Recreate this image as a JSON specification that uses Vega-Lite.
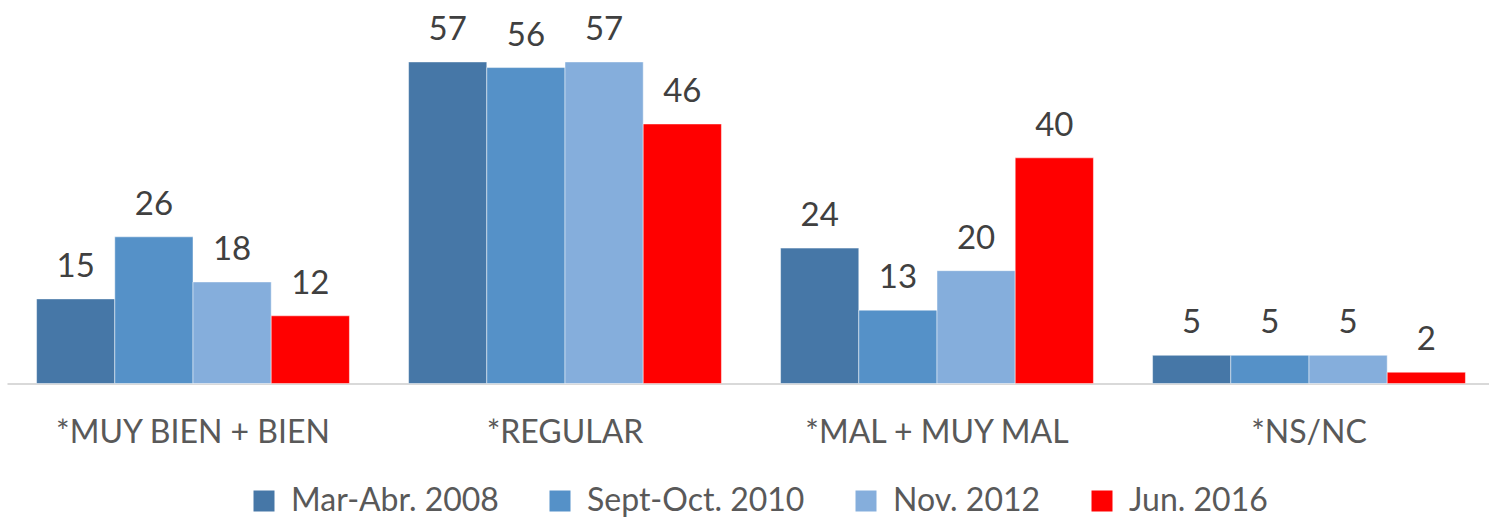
{
  "$schema": "https://vega.github.io/schema/vega-lite/v6.json",
  "autosize": {"type": "none"},
  "padding": {"left": 7, "top": 45, "right": 0, "bottom": 142.5},
  "width": 1488,
  "height": 338.5,
  "background": "white",
  "config": {"view": {"stroke": null}, "font": "Lato"},
  "data": {"values": [
    {"cat": "*MUY BIEN + BIEN", "serie": "Mar-Abr. 2008", "v": 15},
    {"cat": "*MUY BIEN + BIEN", "serie": "Sept-Oct. 2010", "v": 26},
    {"cat": "*MUY BIEN + BIEN", "serie": "Nov. 2012", "v": 18},
    {"cat": "*MUY BIEN + BIEN", "serie": "Jun. 2016", "v": 12},
    {"cat": "*REGULAR", "serie": "Mar-Abr. 2008", "v": 57},
    {"cat": "*REGULAR", "serie": "Sept-Oct. 2010", "v": 56},
    {"cat": "*REGULAR", "serie": "Nov. 2012", "v": 57},
    {"cat": "*REGULAR", "serie": "Jun. 2016", "v": 46},
    {"cat": "*MAL + MUY MAL", "serie": "Mar-Abr. 2008", "v": 24},
    {"cat": "*MAL + MUY MAL", "serie": "Sept-Oct. 2010", "v": 13},
    {"cat": "*MAL + MUY MAL", "serie": "Nov. 2012", "v": 20},
    {"cat": "*MAL + MUY MAL", "serie": "Jun. 2016", "v": 40},
    {"cat": "*NS/NC", "serie": "Mar-Abr. 2008", "v": 5},
    {"cat": "*NS/NC", "serie": "Sept-Oct. 2010", "v": 5},
    {"cat": "*NS/NC", "serie": "Nov. 2012", "v": 5},
    {"cat": "*NS/NC", "serie": "Jun. 2016", "v": 2}
  ]},
  "encoding": {
    "x": {
      "field": "cat", "type": "nominal", "sort": null,
      "scale": {"paddingInner": 0.159, "paddingOuter": 0.0795},
      "axis": {
        "title": null, "labelAngle": 0, "ticks": false,
        "domainColor": "#D9D9D9", "domainWidth": 2,
        "labelFontSize": 32, "labelColor": "#595959", "labelPadding": 59,
        "labelBaseline": "alphabetic", "labelLimit": 0
      }
    },
    "xOffset": {"field": "serie", "type": "nominal", "sort": ["Mar-Abr. 2008", "Sept-Oct. 2010", "Nov. 2012", "Jun. 2016"], "scale": {"paddingInner": 0, "paddingOuter": 0}},
    "y": {"field": "v", "type": "quantitative", "scale": {"domain": [0, 60]}, "axis": null}
  },
  "layer": [
    {
      "mark": {"type": "bar", "stroke": "white", "strokeWidth": 0.8, "strokeOpacity": 0.6},
      "encoding": {
        "color": {
          "field": "serie", "type": "nominal",
          "sort": ["Mar-Abr. 2008", "Sept-Oct. 2010", "Nov. 2012", "Jun. 2016"],
          "scale": {"domain": ["Mar-Abr. 2008", "Sept-Oct. 2010", "Nov. 2012", "Jun. 2016"], "range": ["#4677A7", "#5591C8", "#85AEDC", "#FF0000"]},
          "legend": {
            "title": null, "orient": "none", "legendX": 241, "legendY": 440, "direction": "horizontal",
            "symbolType": "square", "symbolSize": 441, "symbolStrokeWidth": 0,
            "labelFontSize": 32, "labelColor": "#595959", "columnPadding": 45, "labelOffset": 11, "labelLimit": 0
          }
        }
      }
    },
    {
      "mark": {"type": "text", "dy": -22, "fontSize": 33, "color": "#404040", "baseline": "alphabetic"},
      "encoding": {"text": {"field": "v", "type": "quantitative"}}
    }
  ]
}
